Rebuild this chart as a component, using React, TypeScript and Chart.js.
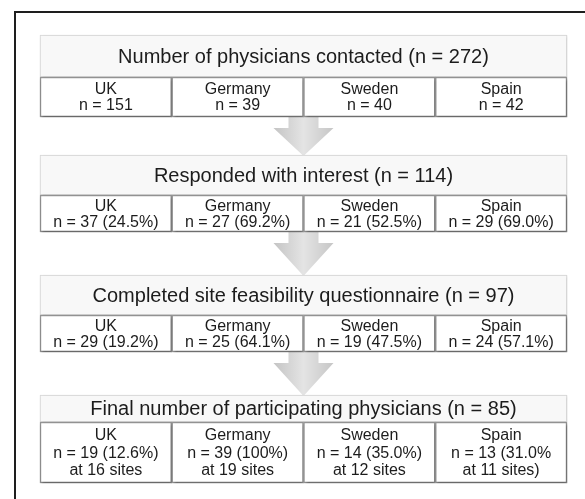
import React, { useEffect, useRef } from 'react';
import { Chart, registerables } from 'chart.js';

Chart.register(...registerables);

// ---- content ----
const stageTitles = [
  'Number of physicians contacted (n = 272)',
  'Responded with interest (n = 114)',
  'Completed site feasibility questionnaire (n = 97)',
  'Final number of participating physicians (n = 85)',
];
const countries = ['UK', 'Germany', 'Sweden', 'Spain'];
const contacted = ['n = 151', 'n = 39', 'n = 40', 'n = 42'];
const responded = ['n = 37 (24.5%)', 'n = 27 (69.2%)', 'n = 21 (52.5%)', 'n = 29 (69.0%)'];
const completed = ['n = 29 (19.2%)', 'n = 25 (64.1%)', 'n = 19 (47.5%)', 'n = 24 (57.1%)'];
const participating = ['n = 19 (12.6%)', 'n = 39 (100%)', 'n = 14 (35.0%)', 'n = 13 (31.0%'];
const participatingSites = ['at 16 sites', 'at 19 sites', 'at 12 sites', 'at 11 sites)'];

// ---- layout along the y scale ----
const rowTop = [0, 120, 240, 360];
const rowSplit = [42, 160, 280, 387];
const rowBottom = [82, 197, 317, 448];

const cellLines: string[][][] = [
  [countries, contacted],
  [countries, responded],
  [countries, completed],
  [countries, participating, participatingSites],
];

const FONT = '"Liberation Sans", Arial, Helvetica, sans-serif';

const flowPlugin = {
  id: 'flow',
  beforeDraw(chart: any) {
    const { ctx, width, height } = chart;
    ctx.save();
    ctx.fillStyle = '#ffffff';
    ctx.fillRect(0, 0, width, height);
    ctx.fillStyle = '#1e1e1e';
    ctx.fillRect(14, 11, 2, height - 11);
    ctx.fillRect(14, 11, width - 14, 2);
    ctx.restore();
  },
  beforeDatasetsDraw(chart: any) {
    const { ctx } = chart;
    const x = chart.scales.x;
    const y = chart.scales.y;
    const cx = x.getPixelForValue(1.5);
    for (let s = 0; s < rowTop.length - 1; s++) {
      const y0 = y.getPixelForValue(rowBottom[s]);
      const tip = y.getPixelForValue(rowTop[s + 1]) + 1;
      const headStart = y0 + 11;
      const shaft = 15;
      const head = 30;
      ctx.save();
      const g = ctx.createLinearGradient(cx - head, 0, cx + head, 0);
      g.addColorStop(0, '#c4c4c4');
      g.addColorStop(0.5, '#e4e4e4');
      g.addColorStop(1, '#c6c6c6');
      ctx.fillStyle = g;
      ctx.beginPath();
      ctx.moveTo(cx - shaft, y0);
      ctx.lineTo(cx + shaft, y0);
      ctx.lineTo(cx + shaft, headStart);
      ctx.lineTo(cx + head, headStart);
      ctx.lineTo(cx, tip);
      ctx.lineTo(cx - head, headStart);
      ctx.lineTo(cx - shaft, headStart);
      ctx.closePath();
      ctx.fill();
      ctx.restore();
    }
  },
  beforeDatasetDraw(chart: any, args: any) {
    const { ctx } = chart;
    ctx.save();
    const ds = chart.data.datasets[args.index];
    if (ds.xAxisID === 'x2') {
      ctx.shadowColor = 'rgba(0,0,0,0.18)';
      ctx.shadowBlur = 3;
      ctx.shadowOffsetX = 1;
      ctx.shadowOffsetY = 1;
    } else {
      ctx.shadowColor = 'rgba(0,0,0,0.35)';
      ctx.shadowBlur = 3;
      ctx.shadowOffsetX = 1;
      ctx.shadowOffsetY = 2;
    }
  },
  afterDatasetDraw(chart: any) {
    chart.ctx.restore();
  },
  afterDatasetsDraw(chart: any) {
    const { ctx } = chart;
    const x = chart.scales.x;
    const x2 = chart.scales.x2;
    const y = chart.scales.y;
    ctx.save();
    ctx.fillStyle = '#1c1c1c';
    ctx.textAlign = 'center';
    ctx.textBaseline = 'middle';
    stageTitles.forEach((title, s) => {
      const ty = (y.getPixelForValue(rowTop[s]) + y.getPixelForValue(rowSplit[s])) / 2 + 1;
      ctx.font = `20px ${FONT}`;
      ctx.fillText(title, x2.getPixelForValue(0), ty);
      const lines = cellLines[s];
      const cy = (y.getPixelForValue(rowSplit[s]) + y.getPixelForValue(rowBottom[s])) / 2 + 1;
      const lh = lines.length > 2 ? 17.5 : 16;
      ctx.font = `16px ${FONT}`;
      countries.forEach((_, i) => {
        const px = x.getPixelForValue(i);
        lines.forEach((arr, li) => {
          const py = cy + (li - (lines.length - 1) / 2) * lh;
          ctx.fillText(arr[i], px, py);
        });
      });
    });
    ctx.restore();
  },
};

export default function App() {
  const ref = useRef<HTMLCanvasElement | null>(null);
  useEffect(() => {
    if (!ref.current) return;
    const titleSets = stageTitles.map((_, s) => ({
      type: 'bar' as const,
      label: 'title' + s,
      xAxisID: 'x2',
      yAxisID: 'y',
      data: [[rowTop[s], rowSplit[s]]],
      backgroundColor: '#f8f8f8',
      borderColor: '#d6d6d6',
      borderWidth: 1,
      borderSkipped: false,
      order: 2,
      clip: false,
    }));
    const cellSets = stageTitles.map((_, s) => ({
      type: 'bar' as const,
      label: 'cells' + s,
      xAxisID: 'x',
      yAxisID: 'y',
      data: countries.map(() => [rowSplit[s], rowBottom[s]]),
      backgroundColor: '#ffffff',
      borderColor: '#959595',
      borderWidth: 1.5,
      borderSkipped: false,
      order: 1,
      clip: false,
    }));
    const chart = new Chart(ref.current, {
      type: 'bar',
      data: {
        labels: countries,
        datasets: [...titleSets, ...cellSets] as any,
      },
      options: {
        animation: false,
        responsive: false,
        maintainAspectRatio: false,
        events: [],
        layout: { padding: { left: 40, right: 18, top: 35, bottom: 16 } },
        datasets: {
          bar: { grouped: false, barPercentage: 1, categoryPercentage: 1 },
        },
        plugins: {
          legend: { display: false },
          tooltip: { enabled: false },
          title: { display: false },
        },
        scales: {
          x: { type: 'category', display: false, offset: true },
          x2: { type: 'category', labels: ['all'], display: false, offset: true },
          y: { type: 'linear', min: 0, max: 448, reverse: true, display: false },
        },
      } as any,
      plugins: [flowPlugin],
    });
    return () => chart.destroy();
  }, []);
  return (
    <div style={{ position: 'absolute', left: 0, top: 0, width: 585, height: 499 }}>
      <canvas ref={ref} width={585} height={499} style={{ display: 'block' }} />
    </div>
  );
}
